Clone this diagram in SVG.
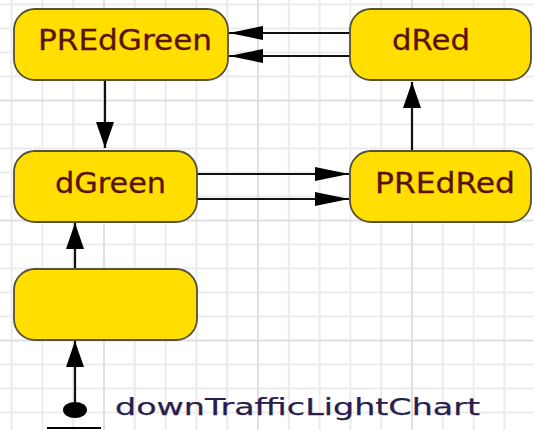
<svg xmlns="http://www.w3.org/2000/svg" width="533" height="430" viewBox="0 0 533 430">
  <style>
    .grid { stroke: #ececec; stroke-width: 2; fill: none; }
    .grid-major { stroke: #e0e0e0; stroke-width: 2; fill: none; }
    .state { fill: #ffde00; stroke: #555238; stroke-width: 1.8; }
    .label { font-family: "DejaVu Sans", Verdana, sans-serif; font-size: 28px; fill: #5a1208; stroke: #5a1208; stroke-width: 0.3; }
    .chart { font-family: "DejaVu Sans", Verdana, sans-serif; font-size: 23px; fill: #2a1d4d; stroke: #2a1d4d; stroke-width: 0.25; }
    .edge { stroke: #111; stroke-width: 2.2; fill: none; }
  </style>
  <defs>
    <marker id="head-h" markerUnits="userSpaceOnUse" markerWidth="36" markerHeight="16" refX="34" refY="7" orient="auto">
      <path d="M0,0 L34,7 L0,14 Z" fill="#000"/>
    </marker>
    <marker id="head-v" markerUnits="userSpaceOnUse" markerWidth="28" markerHeight="20" refX="26" refY="9" orient="auto">
      <path d="M0,0 L26,9 L0,18 Z" fill="#000"/>
    </marker>
  </defs>

  <rect width="533" height="430" fill="#ffffff"/>

  <!-- background grid -->
  <g id="grid">
    <path class="grid" d="M11.6,0V430 M42.4,0V430 M73.2,0V430 M134.8,0V430 M165.6,0V430 M196.4,0V430 M227.2,0V430 M288.8,0V430 M319.6,0V430 M350.4,0V430 M381.2,0V430 M442.8,0V430 M473.6,0V430 M504.4,0V430
      M0,4.5H533 M0,28.5H533 M0,52.5H533 M0,76.5H533 M0,124.5H533 M0,148.5H533 M0,172.5H533 M0,196.5H533 M0,244.5H533 M0,268.5H533 M0,292.5H533 M0,316.5H533 M0,364.5H533 M0,388.5H533 M0,412.5H533"/>
    <path class="grid-major" d="M104,0V430 M258,0V430 M412,0V430 M0,100.5H533 M0,220.5H533 M0,340.5H533"/>
  </g>

  <!-- transitions -->
  <g id="connectors">
    <path class="edge" d="M105,80 V148" marker-end="url(#head-v)"/>
    <path class="edge" d="M350,33 H229" marker-end="url(#head-h)"/>
    <path class="edge" d="M350,56 H229" marker-end="url(#head-h)"/>
    <path class="edge" d="M197,174 H349" marker-end="url(#head-h)"/>
    <path class="edge" d="M197,199 H349" marker-end="url(#head-h)"/>
    <path class="edge" d="M412,151 V82" marker-end="url(#head-v)"/>
    <path class="edge" d="M75,269 V223" marker-end="url(#head-v)"/>
    <path class="edge" d="M75,410 V341" marker-end="url(#head-v)"/>
  </g>

  <!-- states -->
  <g id="PREdGreen">
    <rect class="state" x="14" y="9" width="214" height="71" rx="21" ry="21"/>
    <text class="label" x="38" y="50" textLength="174" lengthAdjust="spacingAndGlyphs">PREdGreen</text>
  </g>
  <g id="dRed">
    <rect class="state" x="350" y="9" width="181" height="71" rx="21" ry="21"/>
    <text class="label" x="392" y="50" textLength="78" lengthAdjust="spacingAndGlyphs">dRed</text>
  </g>
  <g id="dGreen">
    <rect class="state" x="14" y="151" width="183" height="71" rx="21" ry="21"/>
    <text class="label" x="55" y="193" textLength="111" lengthAdjust="spacingAndGlyphs">dGreen</text>
  </g>
  <g id="PREdRed">
    <rect class="state" x="350" y="151" width="181" height="71" rx="21" ry="21"/>
    <text class="label" x="375" y="193" textLength="140" lengthAdjust="spacingAndGlyphs">PREdRed</text>
  </g>
  <g id="unnamed">
    <rect class="state" x="14" y="269" width="183" height="71" rx="21" ry="21"/>
  </g>

  <!-- initial pseudo-state -->
  <g id="initial">
    <ellipse cx="75" cy="410" rx="12" ry="8" fill="#000"/>
    <path d="M47,428 H101" stroke="#000" stroke-width="2"/>
    <text class="chart" x="115" y="415" textLength="365" lengthAdjust="spacingAndGlyphs">downTrafficLightChart</text>
  </g>
</svg>
